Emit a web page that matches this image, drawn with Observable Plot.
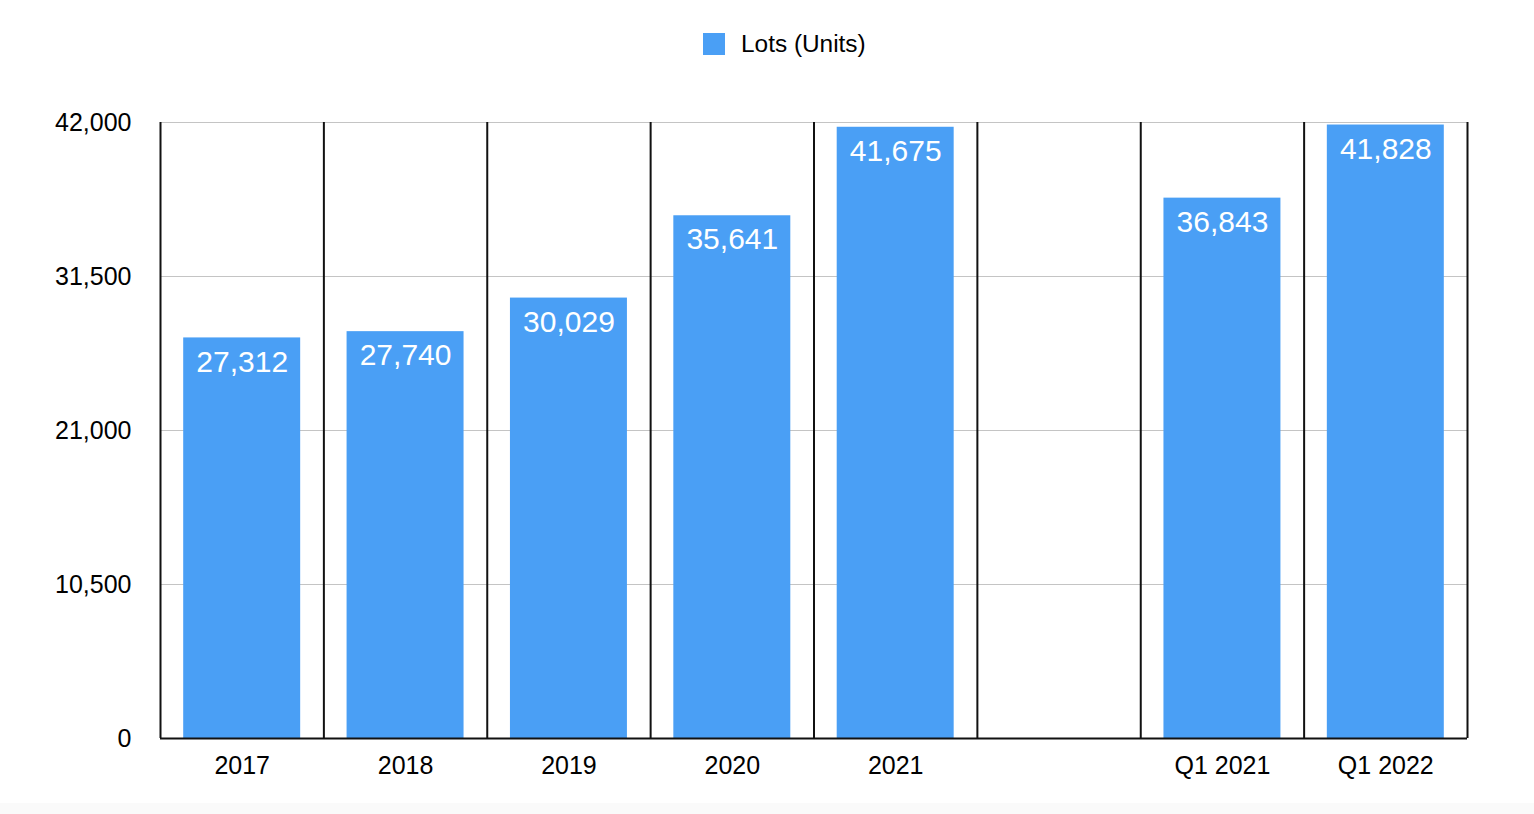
<!DOCTYPE html>
<html>
<head>
<meta charset="utf-8">
<script src="https://cdn.jsdelivr.net/npm/d3@7"></script>
<script src="https://cdn.jsdelivr.net/npm/@observablehq/plot@0.6"></script>
<style>
  html, body { margin: 0; padding: 0; background: #fafafa; }
  #wrap { width: 1534px; height: 803px; background: #fff; font-family: "Liberation Sans", Arial, Helvetica, sans-serif; }
  #legend { height: 80px; position: relative; }
  #legend .sw { position: absolute; left: 703px; top: 33px; width: 22px; height: 22px; background: #4a9ff5; }
  #legend .lb { position: absolute; left: 741px; top: 30px; font-size: 24.4px; line-height: 28px; color: #000; }
  svg { display: block; }
</style>
</head>
<body>
<div id="wrap">
  <div id="legend"><div class="sw"></div><div class="lb">Lots (Units)</div></div>
  <div id="chart"></div>
</div>
<script>
const categories = ["2017", "2018", "2019", "2020", "2021", " ", "Q1 2021", "Q1 2022"];
const values = [27312, 27740, 30029, 35641, 41675, null, 36843, 41828];
const yTicks = [0, 10500, 21000, 31500, 42000];
const seriesName = "Lots (Units)";

const data = categories.map((c, i) => ({category: c, value: values[i]}));
const barData = data.filter(d => d.value != null);

const W = 1534, H = 720, mL = 160, mR = 67, mT = 42, mB = 62;
const step = (W - mL - mR) / categories.length;
const fmt = d3.format(",");

const chart = Plot.plot({
  width: W,
  height: H,
  marginLeft: mL,
  marginRight: mR,
  marginTop: mT,
  marginBottom: mB,
  style: {fontFamily: "'Liberation Sans', Arial, Helvetica, sans-serif", fontSize: "25px", color: "#000", background: "#fff"},
  x: {domain: categories, paddingInner: 0.284, paddingOuter: 0.142, round: false, label: null},
  y: {domain: [0, 42000], ticks: yTicks, label: null},
  marks: [
    Plot.ruleY(yTicks.filter(t => t > 0), {stroke: "#c4c4c4", strokeWidth: 1}),
    Plot.barY(barData, {x: "category", y: "value", fill: "#4a9ff5"}),
    Plot.ruleX(categories, {x: d => d, dx: -step / 2, y1: 0, y2: 42000, stroke: "#111", strokeWidth: 2}),
    Plot.ruleX([categories[categories.length - 1]], {x: d => d, dx: step / 2, y1: 0, y2: 42000, stroke: "#111", strokeWidth: 2}),
    Plot.ruleY([0], {stroke: "#111", strokeWidth: 2}),
    Plot.text(barData, {x: "category", y: "value", text: d => fmt(d.value), dy: 24, fill: "#fff", fontSize: 30}),
    Plot.axisX({tickSize: 0, tickPadding: 18, fontSize: 25, label: null}),
    Plot.axisY({ticks: yTicks, tickSize: 0, tickPadding: 29, tickFormat: fmt, fontSize: 25, label: null})
  ]
});
document.getElementById("chart").appendChild(chart);
</script>
</body>
</html>
